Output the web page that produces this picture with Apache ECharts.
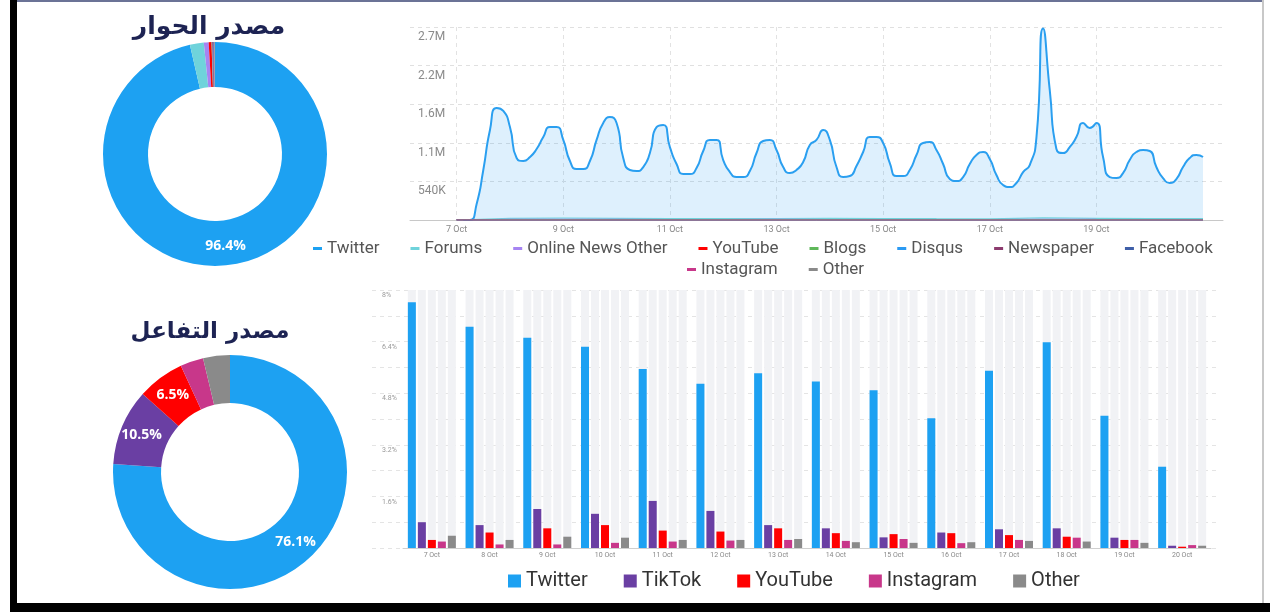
<!DOCTYPE html>
<html>
<head>
<meta charset="utf-8">
<script src="https://cdn.jsdelivr.net/npm/echarts@6/dist/echarts.min.js"></script>
<style>
html, body { margin: 0; padding: 0; background: #fff; }
#main { position: absolute; left: 0; top: 0; width: 1270px; height: 612px; }
.edge { position: absolute; }
</style>
</head>
<body>
<div id="main"></div>
<div class="edge" style="left:10px;top:0;width:7px;height:612px;background:#000"></div>
<div class="edge" style="left:10px;top:603px;width:1260px;height:9px;background:#000"></div>
<div class="edge" style="left:17px;top:0;width:1246px;height:2px;background:#6b7396"></div>
<div class="edge" style="left:1262px;top:0;width:2px;height:603px;background:#c8c8c8"></div>
<script>
// ---- data ----
const dialogueSources = ['Twitter', 'Forums', 'Online News Other', 'YouTube', 'Blogs', 'Disqus', 'Newspaper', 'Facebook', 'Instagram', 'Other']
const dialogueShare = [96.4, 2.0, 0.7, 0.4, 0.05, 0.05, 0.15, 0.1, 0.05, 0.1]

const engagementSources = ['Twitter', 'TikTok', 'YouTube', 'Instagram', 'Other']
const engagementShare = [76.1, 10.5, 6.5, 3.2, 3.7]

// mentions every 3 hours, from 7 Oct 00:00 to 21 Oct 00:00 (thousands)
const twitterMentions = [
  null, 0, 0, 224, 700, 1260, 1567, 1525, 1300,
  867, 825, 881, 993, 1160, 1300, 1300, 1120,
  825, 713, 713, 825, 1120, 1357, 1440, 1357,
  867, 700, 685, 741, 937, 1300, 1330, 1020,
  783, 643, 643, 727, 965, 1120, 1120, 839,
  671, 601, 601, 685, 937, 1105, 1120, 979,
  741, 657, 700, 811, 1050, 1120, 1260, 1120,
  741, 601, 615, 755, 951, 1160, 1160, 1077,
  797, 615, 615, 700, 909, 1077, 1090, 979,
  783, 573, 545, 601, 783, 909, 951, 853,
  629, 490, 462, 518, 671, 769, 1150, 2680,
  1820, 993, 937, 1020, 1160, 1357, 1287, 1357,
  881, 601, 587, 657, 839, 951, 979, 965,
  741, 587, 518, 573, 741, 867, 909, 881
]
// small sources, one value per day 7 Oct .. 21 Oct (thousands)
const forumsDaily = [0, 22, 25, 24, 21, 20, 19, 22, 21, 18, 17, 30, 24, 20, 19]
const newsDaily = [0, 8, 9, 8, 7, 7, 8, 7, 7, 6, 6, 10, 8, 7, 7]
const youtubeDaily = [0, 5, 6, 5, 4, 5, 4, 5, 4, 4, 4, 6, 5, 4, 4]
const blogsDaily = [0, 1, 1, 1, 1, 1, 1, 1, 1, 1, 1, 1, 1, 1, 1]
const disqusDaily = [0, 1, 1, 1, 1, 1, 1, 1, 1, 1, 1, 2, 1, 1, 1]
const newspaperDaily = [0, 3, 3, 3, 2, 2, 2, 2, 2, 2, 2, 3, 3, 2, 2]
const facebookDaily = [0, 2, 2, 2, 2, 2, 2, 2, 2, 1, 1, 2, 2, 2, 2]
const instagramDaily = [0, 1, 1, 1, 1, 1, 1, 1, 1, 1, 1, 1, 1, 1, 1]
const otherDaily = [0, 2, 2, 2, 2, 2, 2, 2, 2, 2, 2, 3, 2, 2, 2]

const lineTickDays = [7, 9, 11, 13, 15, 17, 19]
const lineYLabels = ['', '540K', '1.1M', '1.6M', '2.2M', '2.7M']

const barDays = ['7 Oct', '8 Oct', '9 Oct', '10 Oct', '11 Oct', '12 Oct', '13 Oct', '14 Oct', '15 Oct', '16 Oct', '17 Oct', '18 Oct', '19 Oct', '20 Oct']
const twitterEng = [7.62, 6.86, 6.52, 6.24, 5.55, 5.09, 5.42, 5.16, 4.89, 4.02, 5.50, 6.38, 4.10, 2.52]
const tiktokEng = [0.80, 0.71, 1.21, 1.06, 1.46, 1.15, 0.71, 0.61, 0.33, 0.48, 0.58, 0.61, 0.32, 0.07]
const youtubeEng = [0.25, 0.48, 0.61, 0.71, 0.54, 0.51, 0.61, 0.46, 0.43, 0.46, 0.40, 0.35, 0.25, 0.04]
const instagramEng = [0.20, 0.11, 0.11, 0.16, 0.20, 0.23, 0.25, 0.22, 0.28, 0.15, 0.25, 0.32, 0.25, 0.09]
const otherEng = [0.38, 0.25, 0.35, 0.32, 0.25, 0.25, 0.28, 0.18, 0.16, 0.18, 0.22, 0.20, 0.16, 0.07]
const barYLabels = ['', '', '1.6%', '', '3.2%', '', '4.8%', '', '6.4%', '', '8%']

// ---- styles ----
const colors = {
  Twitter: '#1da1f2', Forums: '#6fd3db', 'Online News Other': '#a684f2', YouTube: '#ff0000',
  Blogs: '#5fb85a', Disqus: '#2b9af3', Newspaper: '#8c3b6e', Facebook: '#3f5fa8',
  Instagram: '#c8378a', Other: '#8a8a8a', TikTok: '#6a3fa3'
}

// 3-hourly categories from 6 Oct 03:00 to 21 Oct 09:00
const timeCats = []
for (let i = 0; i < 123; i++) {
  const h = 3 + i * 3
  const d = 6 + Math.floor(h / 24)
  const hh = h % 24
  timeCats.push(d + ' Oct ' + String(hh).padStart(2, '0') + ':00')
}
const isTickCat = (idx, val) => val.endsWith(' 00:00') && lineTickDays.includes(parseInt(val))
const firstIdx = timeCats.indexOf('7 Oct 00:00')
const twitterSeries = timeCats.map((c, i) => {
  const k = i - firstIdx
  return k >= 0 && k < twitterMentions.length && twitterMentions[k] != null ? twitterMentions[k] * 1000 : null
})
const daily = arr => arr.map((v, k) => [(7 + k) + ' Oct 00:00', v * 1000])

const minor = [
  ['Forums', forumsDaily], ['Online News Other', newsDaily], ['YouTube', youtubeDaily],
  ['Blogs', blogsDaily], ['Disqus', disqusDaily], ['Newspaper', newspaperDaily],
  ['Facebook', facebookDaily], ['Instagram', instagramDaily], ['Other', otherDaily]
]

const pieLabel = {
  show: true,
  position: 'inside',
  color: '#fff',
  fontWeight: 'bold',
  fontSize: 14,
  fontFamily: 'Open Sans',
  formatter: p => (p.percent > 5 ? p.percent.toFixed(1) + '%' : '')
}

const chart = echarts.init(document.getElementById('main'))

chart.setOption({
  animation: false,
  textStyle: { fontFamily: 'Roboto' },
  graphic: [
    { type: 'text', x: 209, y: 27, style: { text: 'مصدر الحوار', fill: '#1d2353', font: 'bold 25px "DejaVu Sans"', align: 'center', verticalAlign: 'middle' } },
    { type: 'text', x: 210, y: 332, style: { text: 'مصدر التفاعل', fill: '#1d2353', font: 'bold 23px "DejaVu Sans"', align: 'center', verticalAlign: 'middle' } }
  ],
  legend: [
    {
      data: dialogueSources.slice(0, 8), left: 313, top: 240, padding: 0,
      icon: 'rect', itemWidth: 9, itemHeight: 3, itemGap: 31,
      textStyle: { fontSize: 17, color: '#555' }
    },
    {
      data: dialogueSources.slice(8), left: 687, top: 261, padding: 0,
      icon: 'rect', itemWidth: 9, itemHeight: 3, itemGap: 31,
      textStyle: { fontSize: 17, color: '#555' }
    },
    {
      data: engagementSources, left: 508, top: 571, padding: 0,
      icon: 'rect', itemWidth: 13, itemHeight: 13, itemGap: 36,
      textStyle: { fontSize: 20, color: '#333' }
    }
  ],
  grid: [
    { left: 410, right: 47, top: 27, bottom: 392, outerBoundsMode: 'none' },
    { left: 372, right: 50, top: 290, bottom: 64, outerBoundsMode: 'none' },
    { left: 403, right: 59, top: 290, bottom: 64, outerBoundsMode: 'none' }
  ],
  xAxis: [
    {
      gridIndex: 0, type: 'category', data: timeCats, boundaryGap: false,
      axisLine: { lineStyle: { color: '#c8c8c8' } },
      axisTick: { show: false },
      axisLabel: { interval: isTickCat, formatter: v => v.split(' ').slice(0, 2).join(' '), fontSize: 9, color: '#888', margin: 5 },
      splitLine: { show: true, interval: isTickCat, lineStyle: { color: '#e2e2e2', type: [4, 4] } }
    },
    { gridIndex: 1, type: 'value', min: 0, max: 1, show: false },
    {
      gridIndex: 2, type: 'category', data: barDays,
      axisLine: { lineStyle: { color: '#cfcfcf' } },
      axisTick: { show: false },
      axisLabel: { fontSize: 7, color: '#888', margin: 4 }
    }
  ],
  yAxis: [
    {
      gridIndex: 0, type: 'value', min: 0, max: 2700000, interval: 540000,
      axisLine: { show: false }, axisTick: { show: false },
      axisLabel: { inside: true, margin: 8, fontSize: 12, color: '#8a8a8a', verticalAlign: 'top', padding: [4, 0, 0, 0], formatter: v => lineYLabels[Math.round(v / 540000)] },
      splitLine: { lineStyle: { color: '#e0e0e0', type: [4, 4] } }
    },
    {
      gridIndex: 1, type: 'value', min: 0, max: 8, interval: 0.8,
      axisLine: { show: false }, axisTick: { show: false },
      axisLabel: { inside: true, margin: 10, fontSize: 7, color: '#999', verticalAlign: 'top', padding: [2, 0, 0, 0], formatter: v => barYLabels[Math.round(v / 0.8)] },
      splitLine: { lineStyle: { color: '#e4e4e4', type: [4, 4] } }
    },
    { gridIndex: 2, type: 'value', min: 0, max: 8, show: false }
  ],
  series: [
    {
      type: 'pie', center: [215, 154], radius: [67, 112], startAngle: 90,
      label: pieLabel, labelLine: { show: false }, emphasis: { disabled: true },
      itemStyle: { borderWidth: 0 },
      data: dialogueSources.map((n, i) => ({ name: n, value: dialogueShare[i], itemStyle: { color: colors[n] } }))
    },
    {
      type: 'pie', center: [230, 472], radius: [69, 117], startAngle: 90,
      label: pieLabel, labelLine: { show: false }, emphasis: { disabled: true },
      itemStyle: { borderWidth: 0 },
      data: engagementSources.map((n, i) => ({ name: n, value: engagementShare[i], itemStyle: { color: colors[n] } }))
    },
    {
      name: 'Twitter', type: 'line', xAxisIndex: 0, yAxisIndex: 0,
      data: twitterSeries, smooth: 0.6, showSymbol: false, connectNulls: false,
      lineStyle: { color: '#2a9ff0', width: 2 },
      itemStyle: { color: colors.Twitter },
      areaStyle: { color: 'rgba(42,159,240,0.22)' }
    },
    ...minor.map(([n, arr]) => ({
      name: n, type: 'line', xAxisIndex: 0, yAxisIndex: 0,
      data: daily(arr), showSymbol: false,
      lineStyle: { color: colors[n], width: 1.2 }, itemStyle: { color: colors[n] }
    })),
    ...[
      ['Twitter', twitterEng], ['TikTok', tiktokEng], ['YouTube', youtubeEng],
      ['Instagram', instagramEng], ['Other', otherEng]
    ].map(([n, arr]) => ({
      name: n, type: 'bar', xAxisIndex: 2, yAxisIndex: 2,
      data: arr, barWidth: 8, barGap: '25%',
      itemStyle: { color: colors[n] },
      showBackground: true, backgroundStyle: { color: '#f1f2f5' }
    }))
  ]
})
</script>
</body>
</html>
